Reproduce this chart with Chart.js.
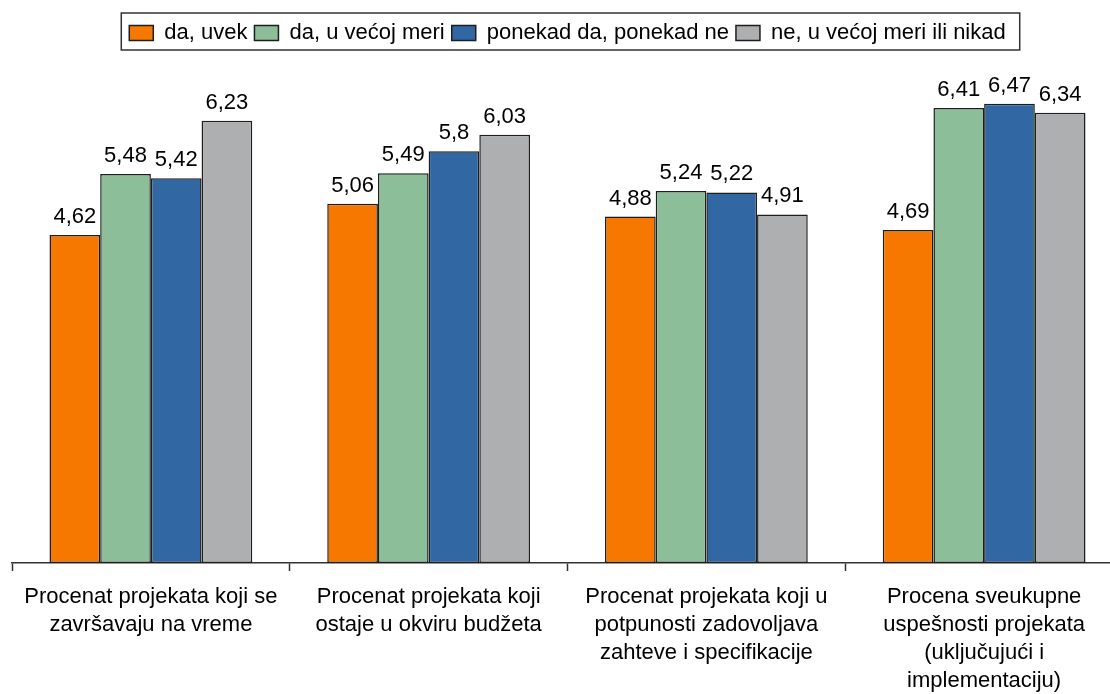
<!DOCTYPE html>
<html>
<head>
<meta charset="utf-8">
<title>Uspešnost projekata</title>
<script src="https://cdn.jsdelivr.net/npm/chart.js@4/dist/chart.umd.min.js"></script>
<style>
  html, body { margin: 0; padding: 0; overflow: hidden; background: #fff; }
  #wrap { width: 1130px; height: 694px; }
</style>
</head>
<body>
<div id="wrap"><canvas id="c" width="1130" height="694"></canvas></div>
<script>
// Categories (wrapped as multi-line labels)
const categories = [
  ["Procenat projekata koji se", "završavaju na vreme"],
  ["Procenat projekata koji", "ostaje u okviru budžeta"],
  ["Procenat projekata koji u", "potpunosti zadovoljava", "zahteve i specifikacije"],
  ["Procena sveukupne", "uspešnosti projekata", "(uključujući i", "implementaciju)"]
];

// Series names
const seriesNames = ["da, uvek", "da, u većoj meri", "ponekad da, ponekad ne", "ne, u većoj meri ili nikad"];

// Series values
const daUvek        = [4.62, 5.06, 4.88, 4.69];
const daUVecojMeri  = [5.48, 5.49, 5.24, 6.41];
const ponekad       = [5.42, 5.80, 5.22, 6.47];
const neUVecojMeri  = [6.23, 6.03, 4.91, 6.34];

const colors = ["#F77800", "#8BBE99", "#3168A3", "#AEAFB1"];
const FONT = "'Liberation Sans', Arial, sans-serif";

// Value labels above each bar, comma as decimal separator
const valueLabels = {
  id: 'valueLabels',
  afterDatasetsDraw(chart) {
    const ctx = chart.ctx;
    ctx.save();
    ctx.font = "22px " + FONT;
    ctx.fillStyle = "#000";
    ctx.textAlign = "center";
    ctx.textBaseline = "alphabetic";
    chart.data.datasets.forEach((ds, i) => {
      chart.getDatasetMeta(i).data.forEach((bar, j) => {
        const txt = String(ds.data[j]).replace('.', ',');
        ctx.fillText(txt, bar.x, bar.y - 12);
      });
    });
    ctx.restore();
  }
};

// Fixed legend block height and a frame around the legend items
const legendFrame = {
  id: 'legendFrame',
  beforeInit(chart) {
    const lg = chart.legend;
    if (lg) {
      const fit = lg.fit;
      lg.fit = function () { fit.bind(lg)(); this.height = 51; };
    }
  },
  afterDraw(chart) {
    const lg = chart.legend;
    if (!lg || !lg.legendHitBoxes || !lg.legendHitBoxes.length) return;
    const boxes = lg.legendHitBoxes;
    const first = boxes[0], last = boxes[boxes.length - 1];
    const ctx = chart.ctx;
    ctx.save();
    ctx.strokeStyle = "#333";
    ctx.lineWidth = 1.5;
    const left = first.left - 8;
    const right = last.left + last.width + 14;
    const top = first.top - 9;
    const bottom = first.top + first.height + 6;
    ctx.strokeRect(left, top, right - left, bottom - top);
    ctx.restore();
  }
};

const mk = (label, data, color) => ({
  label, data,
  backgroundColor: color,
  borderColor: "#1e1e1e",
  borderWidth: 1.5,
  borderSkipped: false
});

new Chart(document.getElementById('c'), {
  type: 'bar',
  data: {
    labels: categories,
    datasets: [
      mk(seriesNames[0], daUvek, colors[0]),
      mk(seriesNames[1], daUVecojMeri, colors[1]),
      mk(seriesNames[2], ponekad, colors[2]),
      mk(seriesNames[3], neUVecojMeri, colors[3])
    ]
  },
  options: {
    responsive: false,
    animation: false,
    layout: { padding: { top: 15, left: 12, right: 7, bottom: 0 } },
    datasets: { bar: { barPercentage: 1.0, categoryPercentage: 0.73 } },
    plugins: {
      tooltip: { enabled: false },
      legend: {
        position: 'top',
        labels: {
          boxWidth: 24,
          boxHeight: 15,
          padding: 7,
          color: "#000",
          font: { family: FONT, size: 22 }
        }
      }
    },
    scales: {
      y: {
        display: false,
        min: 0,
        max: 7
      },
      x: {
        afterFit(axis) { axis.height = 131; },
        border: { display: true, color: "#333", width: 1.5 },
        grid: {
          display: true,
          offset: true,
          drawOnChartArea: false,
          drawTicks: true,
          tickLength: 8,
          tickWidth: 1.5,
          color: "#333"
        },
        ticks: {
          color: "#000",
          padding: 12,
          maxRotation: 0,
          autoSkip: false,
          font: { family: FONT, size: 22, lineHeight: 28 / 22 }
        }
      }
    }
  },
  plugins: [legendFrame, valueLabels]
});
</script>
</body>
</html>
